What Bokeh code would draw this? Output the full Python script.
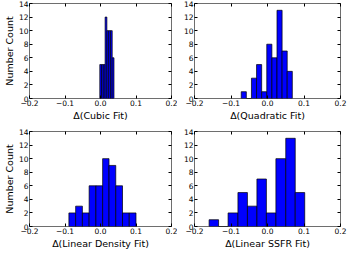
from bokeh.plotting import figure
from bokeh.layouts import column, row
from bokeh.models import Range1d, FixedTicker, LinearAxis, CustomJSTickFormatter
from bokeh.embed import file_html
from bokeh.resources import INLINE

# ---- data ----
x_ticks = [-0.2, -0.1, 0.0, 0.1, 0.2]
y_ticks = [0, 2, 4, 6, 8, 10, 12, 14]

cubic_edges = [-0.002, 0.003, 0.008, 0.013, 0.018, 0.023, 0.028, 0.033, 0.038]
cubic_counts = [5, 5, 5, 12, 10, 10, 10, 6]

quad_edges = [-0.072, -0.058, -0.044, -0.030, -0.016, -0.002, 0.012, 0.026, 0.040, 0.054, 0.068]
quad_counts = [1, 0, 3, 5, 1, 8, 6, 13, 7, 4]

dens_edges = [-0.089, -0.070, -0.051, -0.032, -0.013, 0.006, 0.024, 0.043, 0.062, 0.081, 0.100]
dens_counts = [2, 3, 2, 6, 6, 10, 9, 6, 2, 2]

ssfr_edges = [-0.160, -0.134, -0.108, -0.081, -0.055, -0.029, -0.003, 0.023, 0.050, 0.076, 0.102]
ssfr_counts = [1, 0, 2, 5, 3, 7, 2, 10, 13, 5]

x_labels = ["\u0394(Cubic Fit)", "\u0394(Quadratic Fit)", "\u0394(Linear Density Fit)", "\u0394(Linear SSFR Fit)"]
y_label = "Number Count"

FONT = "DejaVu Sans"
TICK_FS = "7.5px"
LABEL_FS = "9.5px"

xfmt_code = "return (tick < -1e-9 ? '\u2212' : '') + Math.abs(tick).toFixed(1);"


def style_axis(ax, show_labels=True):
    ax.axis_line_color = None
    ax.major_tick_in = 3
    ax.major_tick_out = 0
    ax.minor_tick_in = 0
    ax.minor_tick_out = 0
    ax.major_tick_line_color = "black"
    ax.major_tick_line_width = 1
    ax.major_label_text_font = FONT
    ax.major_label_text_color = "black"
    ax.axis_label_text_font = FONT
    ax.axis_label_text_font_size = LABEL_FS
    ax.axis_label_text_font_style = "normal"
    ax.axis_label_text_color = "black"
    if show_labels:
        ax.major_label_text_font_size = TICK_FS
        ax.major_label_standoff = 1
        ax.axis_label_standoff = 1
    else:
        ax.major_label_text_font_size = "0px"
        ax.major_label_standoff = 0
        ax.formatter = CustomJSTickFormatter(code="return '';")


def make_panel(edges, counts, xlabel, ylabel, fw, fh, bl, br, bt, bb):
    p = figure(frame_width=fw, frame_height=fh, output_backend="svg", toolbar_location=None,
               x_range=Range1d(-0.2, 0.2), y_range=Range1d(0, 14),
               min_border_left=bl, min_border_right=br, min_border_top=bt, min_border_bottom=bb)
    p.xgrid.visible = False
    p.ygrid.visible = False
    p.outline_line_color = "#6e6e6e"
    p.outline_line_width = 1
    p.background_fill_color = "white"
    p.border_fill_color = "white"

    p.quad(left=edges[:-1], right=edges[1:], bottom=0, top=counts,
           fill_color="#0000ff", line_color="black", line_width=0.7)

    xa = p.xaxis[0]
    xa.ticker = FixedTicker(ticks=x_ticks)
    xa.formatter = CustomJSTickFormatter(code=xfmt_code)
    xa.axis_label = xlabel
    style_axis(xa)

    ya = p.yaxis[0]
    ya.ticker = FixedTicker(ticks=y_ticks)
    if ylabel:
        ya.axis_label = ylabel
    style_axis(ya)

    top_ax = LinearAxis(ticker=FixedTicker(ticks=x_ticks))
    style_axis(top_ax, show_labels=False)
    p.add_layout(top_ax, "above")
    right_ax = LinearAxis(ticker=FixedTicker(ticks=y_ticks))
    style_axis(right_ax, show_labels=False)
    p.add_layout(right_ax, "right")
    return p


FW_L = 142
FW_R = 146
FH = 95

p1 = make_panel(cubic_edges, cubic_counts, x_labels[0], y_label, FW_L, FH, 20, 6, 3, 22)
p2 = make_panel(quad_edges, quad_counts, x_labels[1], None, FW_R, FH, 17, 7, 3, 22)
p3 = make_panel(dens_edges, dens_counts, x_labels[2], y_label, FW_L, FH, 20, 6, 8, 22)
p4 = make_panel(ssfr_edges, ssfr_counts, x_labels[3], None, FW_R, FH, 17, 7, 8, 22)

layout = column(row(p1, p2), row(p3, p4))

open("out.html", "w").write(file_html(layout, INLINE))
